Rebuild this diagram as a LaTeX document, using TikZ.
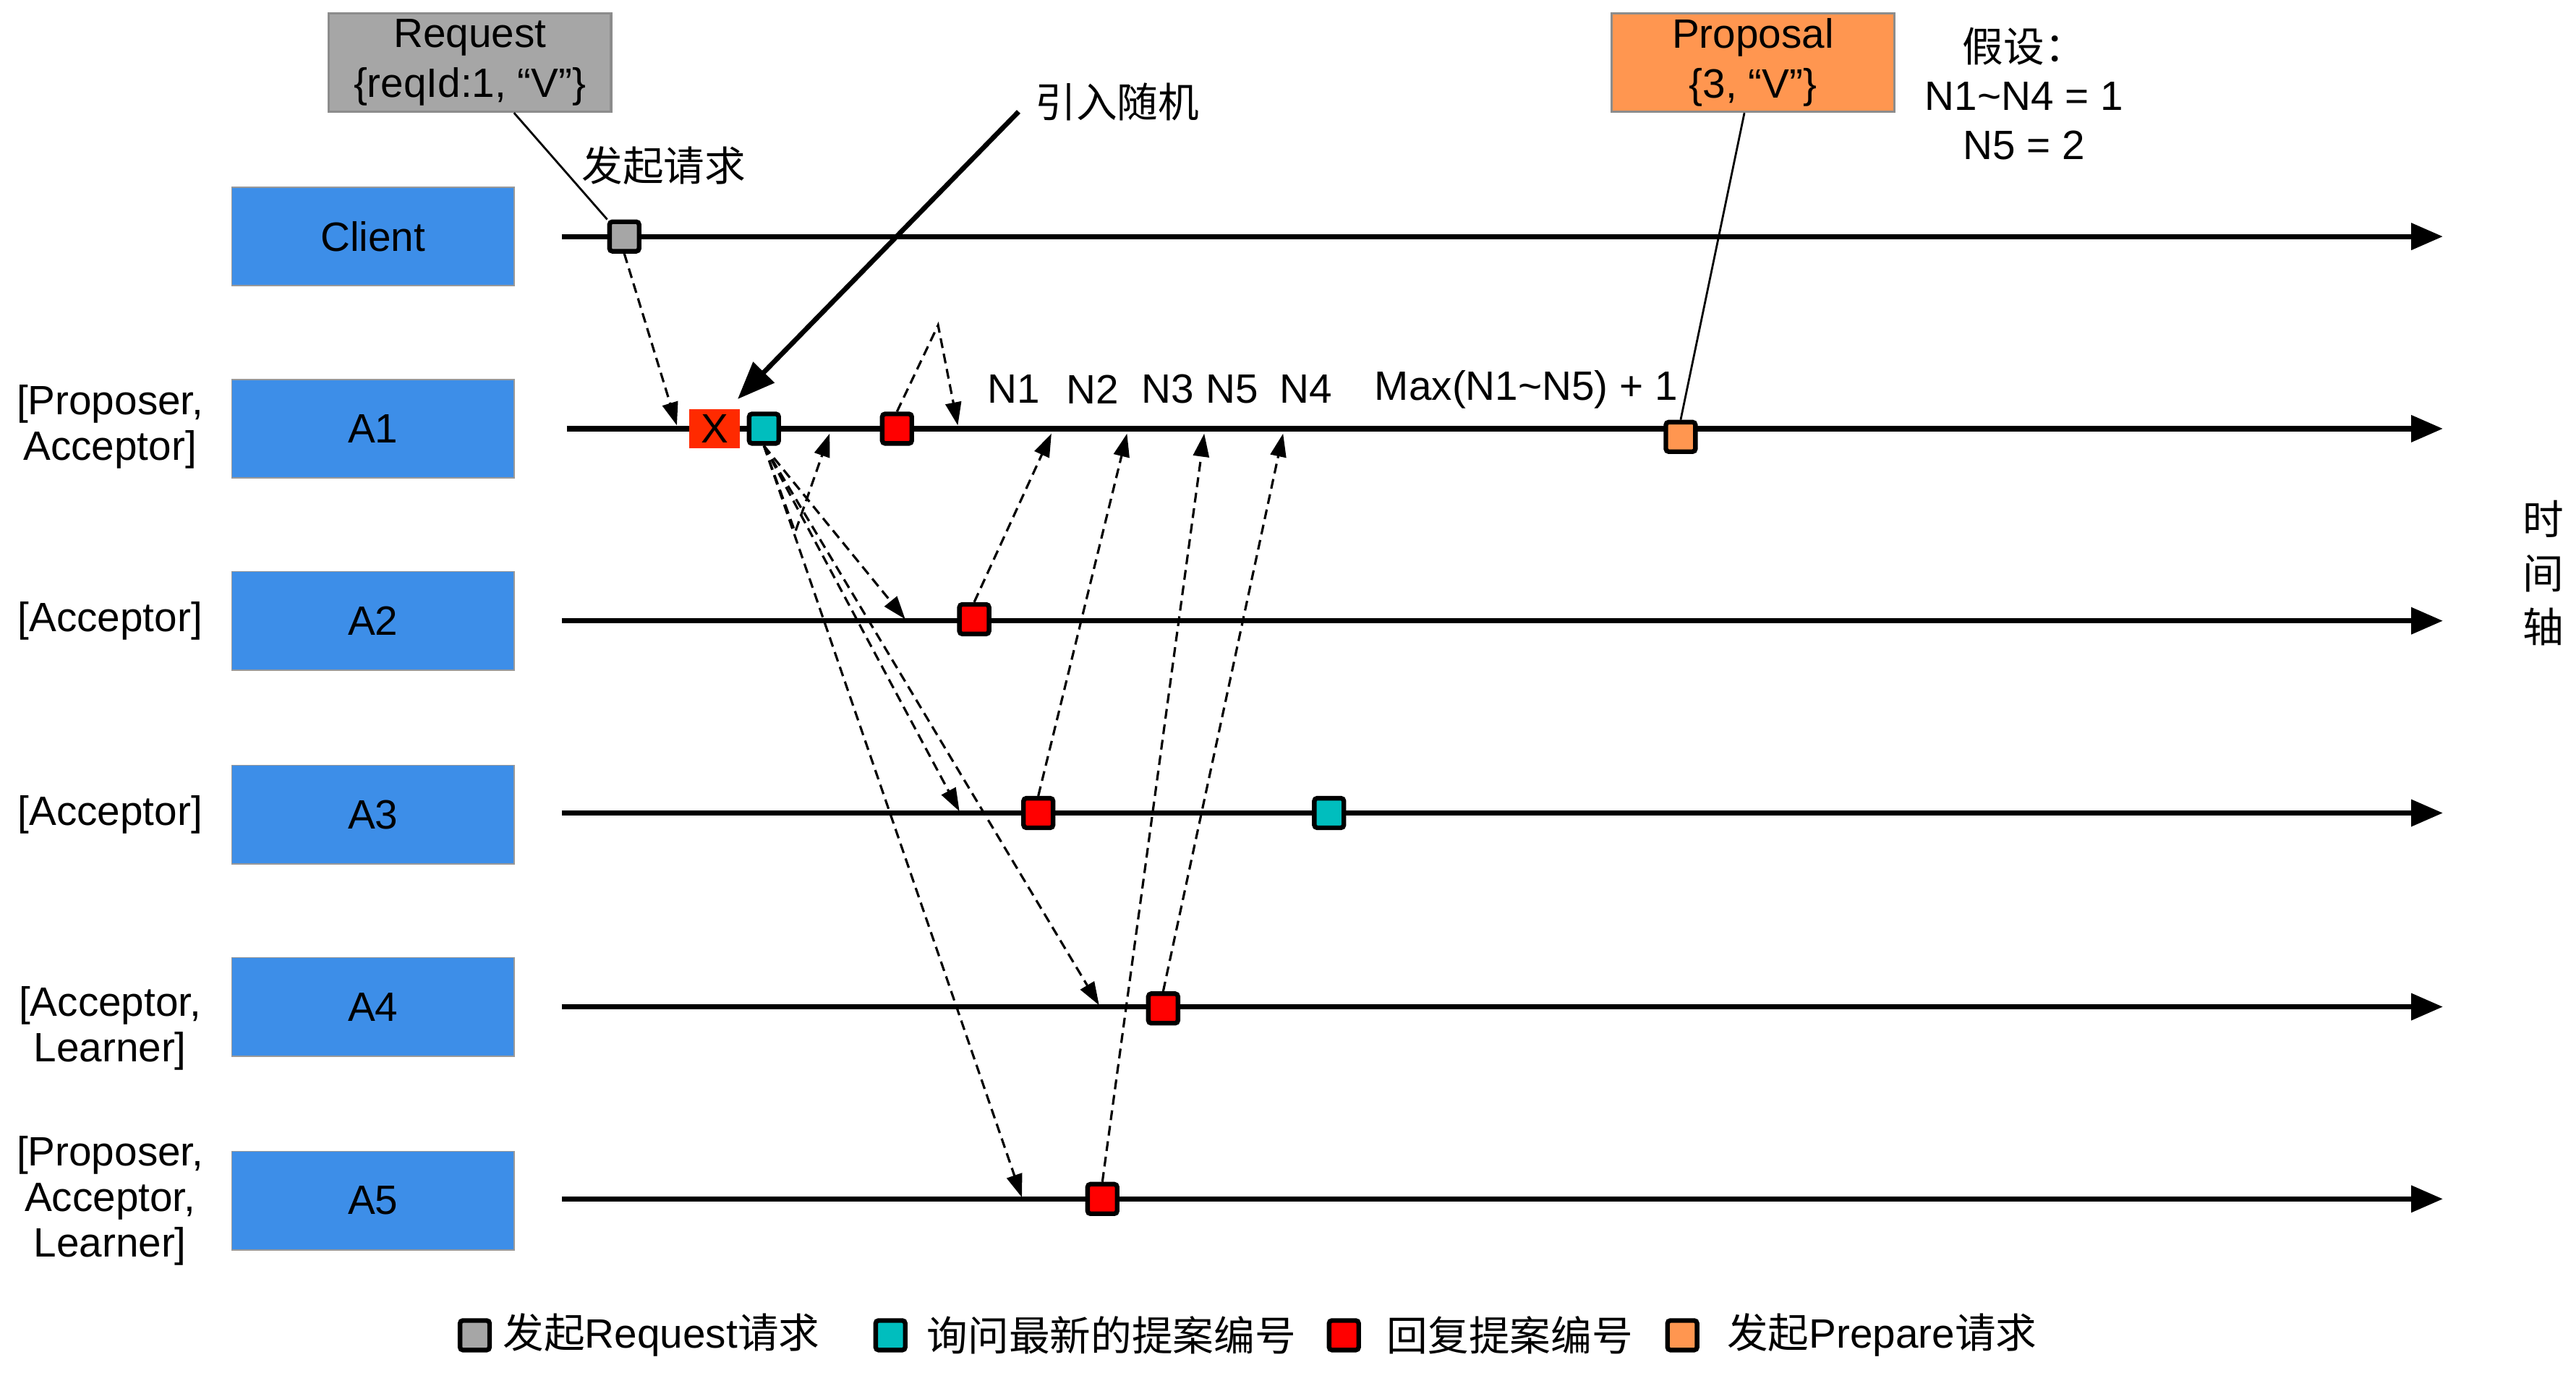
\documentclass[tikz,border=0pt]{standalone}
\usepackage{fontspec}
\setmainfont{Liberation Sans}
\newfontfamily\cjk{Noto Sans CJK SC}
\usetikzlibrary{arrows.meta,calc}
\definecolor{actorblue}{RGB}{61,142,232}
\definecolor{reqgray}{RGB}{166,166,166}
\definecolor{askcyan}{RGB}{0,190,190}
\definecolor{replyred}{RGB}{255,0,0}
\definecolor{preporange}{RGB}{255,150,80}
\definecolor{randred}{RGB}{255,42,0}

\begin{document}
\begin{tikzpicture}[x=0.02cm,y=-0.02cm,
  font=\fontsize{14.2pt}{16pt}\selectfont,
  actor/.style={rectangle,draw=gray!80,fill=actorblue,
    minimum width=3.44cm,minimum height=1.2cm},
  note/.style={rectangle,draw=gray!90,thick,minimum width=3.44cm,
    minimum height=1.2cm,align=center,inner sep=1pt,
    font=\fontsize{14.2pt}{17.5pt}\selectfont},
  role/.style={align=center,font=\fontsize{14.2pt}{15.8pt}\selectfont},
  evt/.style={rectangle,draw=black,line width=1.6pt,rounded corners=1pt,
    minimum size=0.36cm,inner sep=0pt},
  timeline/.style={line width=1.8pt,-{Triangle[length=11pt,width=9pt]}},
  msg/.style={line width=0.8pt,dash pattern=on 3.4pt off 2pt,
    -{Triangle[length=8pt,width=5.5pt]}},
  link/.style={line width=0.7pt},
  pointer/.style={line width=1.7pt,-{Triangle[length=13pt,width=10pt]}},
]
  \useasboundingbox (0,0) rectangle (1568,839);

  \node[actor] (cli) at (227,144) {Client};
  \node[actor] (a1)  at (227,261) {A1};
  \node[actor] (a2)  at (227,378) {A2};
  \node[actor] (a3)  at (227,496) {A3};
  \node[actor] (a4)  at (227,613) {A4};
  \node[actor] (a5)  at (227,731) {A5};

  \node[role] (r1role) at (67,260) {[Proposer,\\Acceptor]};
  \node[role] (r2role) at (67,378) {[Acceptor]};
  \node[role] (r3role) at (67,496) {[Acceptor]};
  \node[role] (r4role) at (67,626) {[Acceptor,\\Learner]};
  \node[role] (r5role) at (67,731) {[Proposer,\\Acceptor,\\Learner]};

  \coordinate (clis) at (342,144);  \coordinate (clie) at (1487,144);
  \coordinate (a1s)  at (345,261);  \coordinate (a1e)  at (1487,261);
  \coordinate (a2s)  at (342,378);  \coordinate (a2e)  at (1487,378);
  \coordinate (a3s)  at (342,495);  \coordinate (a3e)  at (1487,495);
  \coordinate (a4s)  at (342,613);  \coordinate (a4e)  at (1487,613);
  \coordinate (a5s)  at (342,730);  \coordinate (a5e)  at (1487,730);
  \draw[timeline] (clis) -- (clie);
  \draw[timeline] (a1s) -- (a1e);
  \draw[timeline] (a2s) -- (a2e);
  \draw[timeline] (a3s) -- (a3e);
  \draw[timeline] (a4s) -- (a4e);
  \draw[timeline] (a5s) -- (a5e);

  \node[note,fill=reqgray] (reqbox) at (286,38) {Request\\\{reqId:1, “V”\}};
  \node[note,fill=preporange] (propbox) at (1067,38) {Proposal\\\{3, “V”\}};
  \node (start) at (404,101) {\cjk 发起请求};
  \node (rnd) at (680,62) {\cjk 引入随机};
  \node[align=center,font=\fontsize{14.2pt}{17pt}\selectfont] (assume) at (1232,57)
    {{\cjk 假设：}\\N1\textasciitilde N4 = 1\\N5 = 2};
  \node[align=center,font=\fontsize{14.2pt}{18.7pt}\selectfont] (axis) at (1548,349)
    {\cjk 时\\\cjk 间\\\cjk 轴};

  \node (n1) at (617,237) {N1};
  \node (n2) at (665,237) {N2};
  \node (n3) at (711,237) {N3};
  \node (n5) at (750,237) {N5};
  \node (n4) at (795,237) {N4};
  \node (nmax) at (929,237) {Max(N1\textasciitilde N5) + 1};

  \node[evt,fill=reqgray] (req) at (380,144) {};
  \node[fill=randred,minimum width=0.62cm,minimum height=0.48cm,inner sep=0pt] (xr) at (435,261) {X};
  \node[evt,fill=askcyan] (ask) at (465,261) {};
  \node[evt,fill=replyred] (r1) at (546,261) {};
  \node[evt,fill=preporange] (prep) at (1023,266) {};
  \node[evt,fill=replyred] (r2) at (593,377) {};
  \node[evt,fill=replyred] (r3) at (632,495) {};
  \node[evt,fill=askcyan] (ask3) at (809,495) {};
  \node[evt,fill=replyred] (r4) at (708,614) {};
  \node[evt,fill=replyred] (r5) at (671,730) {};

  \coordinate (reqtip) at (412,259);
  \coordinate (t2) at (551,377);
  \coordinate (t3) at (584,494);
  \coordinate (t4) at (669,612);
  \coordinate (t5) at (622,729);
  \coordinate (selfturn) at (484,324);
  \coordinate (selftip) at (505,264);
  \coordinate (r1turn) at (571,198);
  \coordinate (r1tip) at (583,259);
  \coordinate (tn1) at (640,264);
  \coordinate (tn2) at (686,264);
  \coordinate (tn3) at (733,264);
  \coordinate (tn4) at (781,264);
  \coordinate (rndtail) at (620,68);
  \coordinate (rndtip) at (449,243);

  \draw[link] ($(reqbox.south)!0.31!(reqbox.south east)$) -- (req.north west);
  \draw[link] ($(propbox.south)!-0.06!(propbox.south east)$) -- (prep.north);
  \draw[pointer] (rndtail) -- (rndtip);

  \draw[msg] (req.south) -- (reqtip);
  \draw[msg] (ask.south) -- (t2);
  \draw[msg] (ask.south) -- (t3);
  \draw[msg] (ask.south) -- (t4);
  \draw[msg] (ask.south) -- (t5);
  \draw[msg] (ask.south) -- (selfturn) -- (selftip);
  \draw[msg] (r1.north) -- (r1turn) -- (r1tip);
  \draw[msg] (r2.north) -- (tn1);
  \draw[msg] (r3.north) -- (tn2);
  \draw[msg] (r5.north) -- (tn3);
  \draw[msg] (r4.north) -- (tn4);

  \node[evt,fill=reqgray] (lg1) at (289,813) {};
  \node[anchor=west] (lg1t) at (300,813) {{\cjk 发起}Request{\cjk 请求}};
  \node[evt,fill=askcyan] (lg2) at (542,813) {};
  \node[anchor=west] (lg2t) at (558,813) {\cjk 询问最新的提案编号};
  \node[evt,fill=replyred] (lg3) at (818,813) {};
  \node[anchor=west] (lg3t) at (838,813) {\cjk 回复提案编号};
  \node[evt,fill=preporange] (lg4) at (1024,813) {};
  \node[anchor=west] (lg4t) at (1045,813) {{\cjk 发起}Prepare{\cjk 请求}};
\end{tikzpicture}
\end{document}
